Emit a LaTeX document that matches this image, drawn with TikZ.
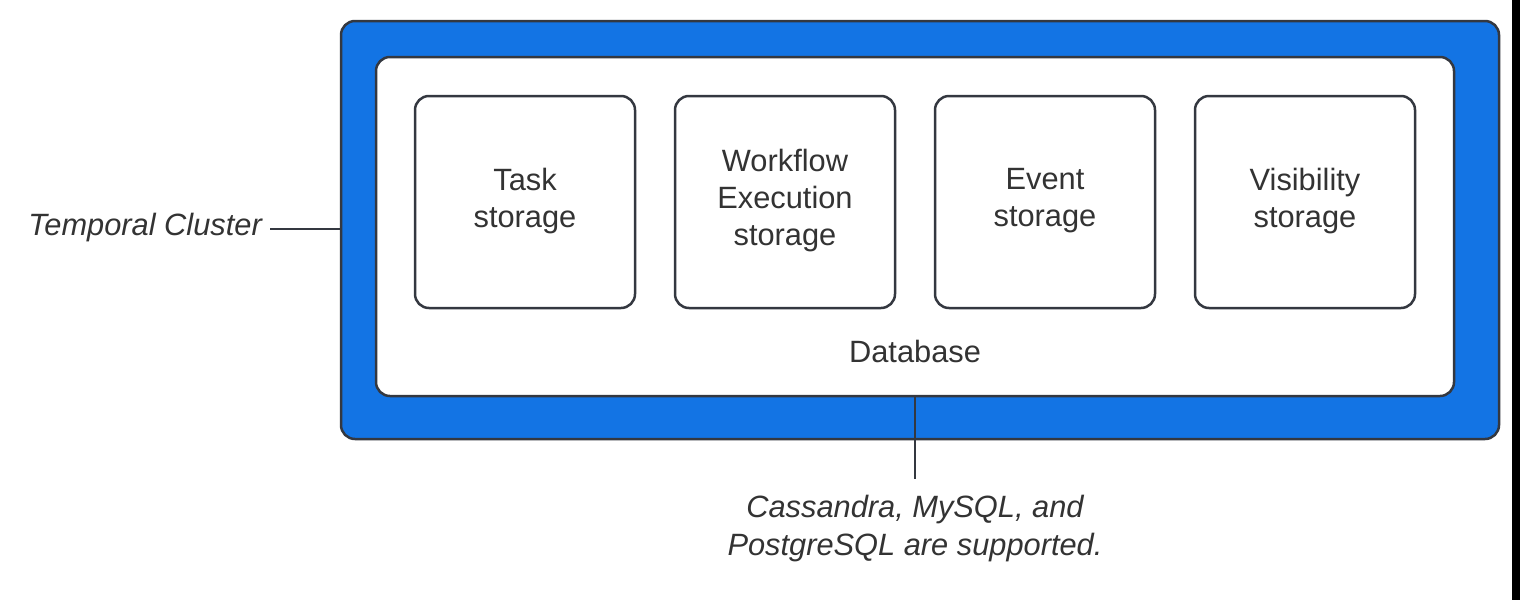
\documentclass[tikz,border=0pt]{standalone}
\usepackage{fontspec}
\setmainfont{Liberation Sans}
\definecolor{tblue}{RGB}{19,116,228}
\definecolor{tedge}{RGB}{52,56,64}
\definecolor{ttext}{RGB}{51,51,51}
\begin{document}
\begin{tikzpicture}[x=1pt,y=-1pt,
  outerbox/.style={draw=tedge,line width=2.5pt,fill=tblue,rounded corners=14pt},
  innerbox/.style={draw=tedge,line width=2.5pt,fill=white,rounded corners=14pt},
  storebox/.style={draw=tedge,line width=2.5pt,fill=white,rounded corners=14pt},
  lbl/.style={text=ttext,font=\fontsize{30.8}{37}\selectfont,align=center,inner sep=0pt},
  ilbl/.style={lbl,font=\fontsize{30.8}{38}\selectfont\itshape},
  conn/.style={draw=tedge,line width=2pt}]
\useasboundingbox (0,0) rectangle (1520,600);
\fill[white] (0,0) rectangle (1520,600);
\fill[black] (1512,0) rectangle (1520,600);
\draw[outerbox] (341,21) rectangle (1499,439);
\node[inner sep=0pt,minimum width=1158pt,minimum height=418pt] (cluster) at (920,230) {};
\draw[innerbox] (376,57) rectangle (1454,396);
\node[inner sep=0pt,minimum width=1078pt,minimum height=339pt] (db) at (915,226.5) {};
\draw[storebox] (415,96) rectangle (635,308);
\draw[storebox] (675,96) rectangle (895,308);
\draw[storebox] (935,96) rectangle (1155,308);
\draw[storebox] (1195,96) rectangle (1415,308);
\node[lbl] (task) at (525,201) {Task\\storage};
\node[lbl] (wf) at (785,201) {Workflow\\Execution\\storage};
\node[lbl] (event) at (1045,201) {Event\\storage};
\node[lbl] (vis) at (1305,201) {Visibility\\storage};
\node[lbl] (dbl) at (915,351) {Database};
\node[ilbl,anchor=east] (tc) at (262,228) {Temporal Cluster};
\node[ilbl] (sup) at (915,529) {Cassandra, MySQL, and\\PostgreSQL are supported.};
\coordinate (dbb) at (915,396);
\coordinate (dbe) at (915,479);
\coordinate (tcs) at (270,229);
\coordinate (tce) at (340,229);
\draw[conn] (tcs) -- (tce);
\draw[conn] (dbb) -- (dbe);
\end{tikzpicture}
\end{document}
